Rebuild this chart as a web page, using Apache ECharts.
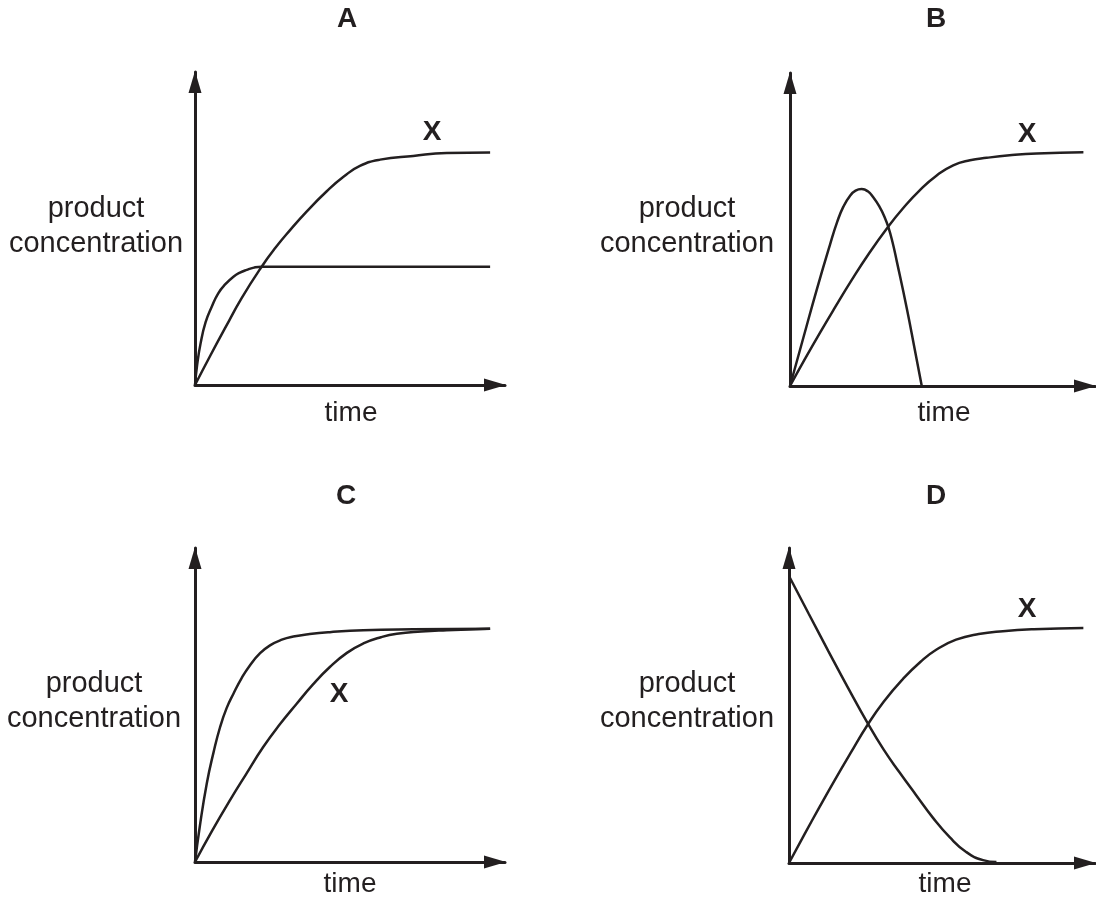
<!DOCTYPE html>
<html>
<head>
<meta charset="utf-8">
<style>
  html, body { margin: 0; padding: 0; background: #fff; }
  #chart { width: 1096px; height: 902px; }
</style>
<script src="https://cdn.jsdelivr.net/npm/echarts@6/dist/echarts.min.js"></script>
</head>
<body>
<div id="chart"></div>
<script>
  // panel titles and axis texts
  const panelNames = ['A', 'B', 'C', 'D'];
  const yAxisName = 'product\nconcentration';
  const xAxisName = 'time';
  const curveLabel = 'X';

  // curves, [time, product] in 0..100 axis units
  const aCurveX = [[0, 0], [5, 9.5], [10, 18.7], [15, 27.7], [21.5, 37.8], [26, 43.9], [30.6, 49.4], [36, 55.4], [42.5, 61.9], [48, 66.6], [53.2, 70.0], [59.7, 72.0], [70.4, 73.2], [81.2, 74.1], [95.2, 74.3]];
  const aCurveOther = [[0, 0], [0.7, 6.5], [1.8, 13.3], [3.4, 20.0], [5.4, 25.0], [7.5, 29.3], [9.8, 32.2], [12.4, 34.6], [14.5, 35.9], [16.7, 36.8], [19, 37.5], [21.5, 37.8], [30, 37.8], [50, 37.8], [70, 37.8], [95.2, 37.8]];

  const bCurveX = [[0, 0], [5, 8.8], [10, 17.3], [15, 25.5], [20, 33.5], [26, 42.5], [32.2, 50.9], [37, 56.7], [42.6, 62.6], [48, 67.2], [53.5, 70.5], [59, 72.1], [64.5, 72.9], [72, 73.7], [80.9, 74.3], [96.2, 74.7]];
  const bCurveOther = [[0, 0], [4.4, 15.5], [8.8, 30.9], [13.1, 45.1], [15.5, 52.5], [17.5, 57.3], [19.7, 60.8], [21.5, 62.4], [23.5, 62.9], [25.5, 62.2], [27.3, 60.3], [29.5, 57.0], [31, 54.0], [32.2, 50.9], [33.6, 46.0], [35, 39.9], [38.3, 24.8], [41.0, 11.2], [43.2, 0]];

  const cCurveX = [[0, 0], [5.5, 9.9], [11.3, 19.7], [16.5, 28.0], [22.0, 36.6], [27.5, 44.0], [32.8, 50.4], [38, 56.5], [43.5, 62.1], [49, 66.6], [54.3, 69.6], [60, 71.6], [65.1, 72.7], [73, 73.4], [81.2, 73.8], [95.2, 74.3]];
  const cCurveOther = [[0, 0], [1.5, 11.0], [3.8, 25.0], [6, 35.0], [8.1, 43.0], [10.2, 49.0], [12.4, 53.6], [15, 58.5], [17.7, 62.6], [21, 66.5], [24.2, 69.0], [28, 70.8], [31.7, 71.8], [37, 72.6], [43.5, 73.2], [54.3, 73.8], [70.4, 74.1], [95.2, 74.3]];

  const dCurveX = [[0, 0], [5, 9.0], [10, 17.8], [15, 26.4], [20, 34.7], [25.7, 43.9], [31, 51.3], [37.2, 58.4], [43, 63.9], [48.1, 67.7], [54.6, 70.9], [62, 72.7], [69.9, 73.6], [80, 74.2], [96.2, 74.6]];
  const dCurveOther = [[0, 91.1], [6.4, 79.2], [12.9, 67.2], [19.3, 55.6], [25.7, 44.4], [31, 35.9], [36.1, 28.8], [41.5, 21.6], [47.0, 14.4], [52.5, 8.2], [57.9, 3.5], [63.4, 0.9], [67.8, 0.3]];

  const ink = '#231f20';
  const fontFamily = '"Liberation Sans", Arial, Helvetica, sans-serif';

  const panels = [
    { grid: { left: 195, top: 72, width: 310, height: 313 }, curves: [aCurveX, aCurveOther],
      title: [347, 19], yName: [96, 226], xName: [351, 413], label: [432, 132] },
    { grid: { left: 790, top: 73, width: 305, height: 313 }, curves: [bCurveX, bCurveOther],
      title: [936, 19], yName: [687, 226], xName: [944, 413], label: [1027, 134] },
    { grid: { left: 195, top: 548, width: 310, height: 314 }, curves: [cCurveX, cCurveOther],
      title: [346, 496], yName: [94, 701], xName: [350, 884], label: [339, 694] },
    { grid: { left: 789, top: 548, width: 306, height: 315 }, curves: [dCurveX, dCurveOther],
      title: [936, 496], yName: [687, 701], xName: [945, 884], label: [1027, 609] }
  ];

  function axis(i) {
    return {
      gridIndex: i,
      type: 'value',
      min: 0,
      max: 100,
      axisLine: {
        show: true,
        onZero: false,
        symbol: ['none', 'triangle'],
        symbolSize: [13, 22],
        symbolOffset: [0, -10],
        lineStyle: { color: ink, width: 3 }
      },
      axisTick: { show: false },
      axisLabel: { show: false },
      splitLine: { show: false }
    };
  }

  function text(pos, str, bold, size, lineHeight) {
    return {
      type: 'text',
      silent: true,
      style: {
        text: str,
        x: pos[0],
        y: pos[1],
        fill: ink,
        font: (bold ? 'bold ' : '') + size + 'px ' + fontFamily,
        textAlign: 'center',
        textVerticalAlign: 'middle',
        align: 'center',
        verticalAlign: 'middle',
        lineHeight: lineHeight || 32
      }
    };
  }

  const grids = [], xAxes = [], yAxes = [], series = [], graphics = [];
  panels.forEach(function (p, i) {
    grids.push(Object.assign({ containLabel: false }, p.grid));
    xAxes.push(axis(i));
    yAxes.push(axis(i));
    p.curves.forEach(function (data) {
      series.push({
        type: 'line',
        xAxisIndex: i,
        yAxisIndex: i,
        data: data,
        showSymbol: false,
        smooth: 0.5,
        lineStyle: { color: ink, width: 2.5 },
        silent: true
      });
    });
    graphics.push(text(p.title, panelNames[i], true, 28));
    graphics.push(text(p.yName, yAxisName, false, 29, 35));
    graphics.push(text(p.xName, xAxisName, false, 28));
    graphics.push(text(p.label, curveLabel, true, 28));
  });

  const chart = echarts.init(document.getElementById('chart'));
  chart.setOption({
    animation: false,
    backgroundColor: '#fff',
    grid: grids,
    xAxis: xAxes,
    yAxis: yAxes,
    series: series,
    graphic: graphics
  });
</script>
</body>
</html>
